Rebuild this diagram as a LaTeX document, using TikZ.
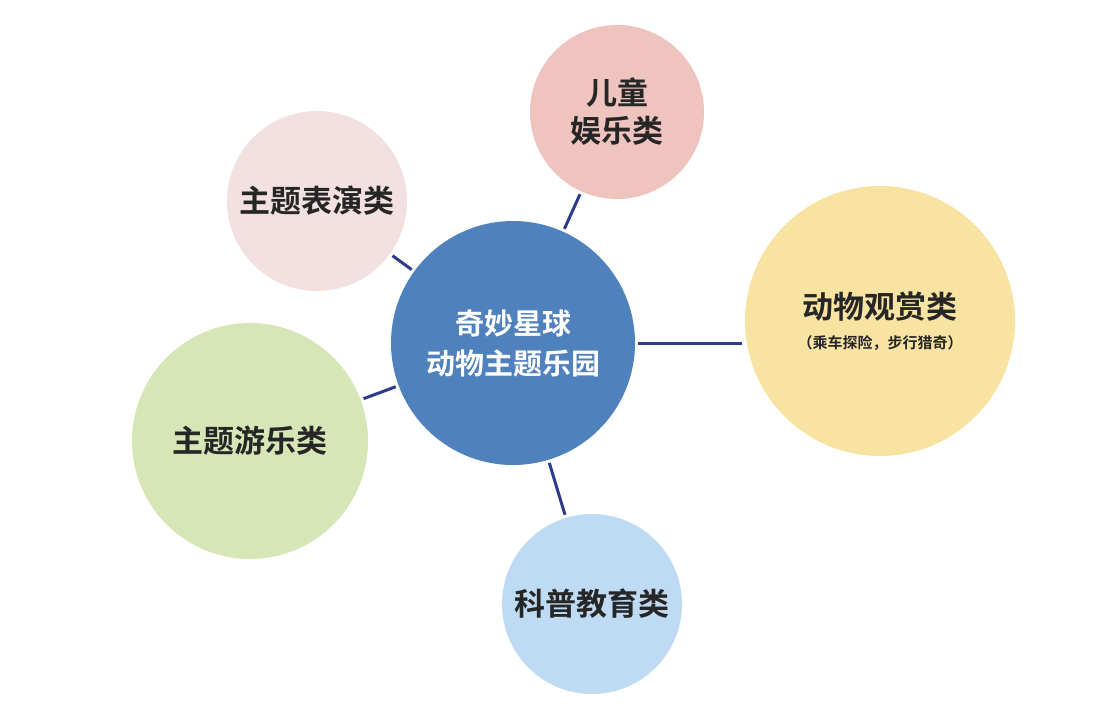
\documentclass[tikz,border=0pt]{standalone}
\usepackage{fontspec}
\setmainfont{Noto Sans CJK SC Bold}
\usetikzlibrary{positioning}
\definecolor{HubBlue}{HTML}{4F81BD}
\definecolor{KidRose}{HTML}{EFC3BE}
\definecolor{ShowPink}{HTML}{F3E0E0}
\definecolor{ViewYellow}{HTML}{F9E3A3}
\definecolor{RideGreen}{HTML}{D7E6B6}
\definecolor{SciBlue}{HTML}{BFDBF4}
\definecolor{LinkNavy}{HTML}{2C3C8A}

\begin{document}
\begin{tikzpicture}[
    x=1pt, y=-1pt,
    topic/.style={circle, inner sep=0pt, align=center, text=black!85,
                  font=\fontsize{31}{38}\selectfont},
    link/.style={LinkNavy, line width=3pt, shorten <=3pt, shorten >=3pt}
]
    \useasboundingbox (0,0) rectangle (1118,721);
    % hub
    \node[topic, fill=HubBlue, minimum size=244, text=white,
          font=\fontsize{29}{40}\selectfont] (hub) at (513,343) {奇妙星球\\动物主题乐园};

    % categories
    \node[topic, fill=KidRose, minimum size=174] (kids) at (617,112) {儿童\\娱乐类};
    \node[topic, fill=ShowPink, minimum size=180] (show) at (317,201) {主题表演类};
    \node[topic, fill=ViewYellow, minimum size=270] (view) at (880,321)
        {动物观赏类\\[-8pt]{\fontsize{15}{18}\selectfont （乘车探险，步行猎奇）}};
    \node[topic, fill=RideGreen, minimum size=236] (ride) at (250,441) {主题游乐类};
    \node[topic, fill=SciBlue, minimum size=180] (sci) at (592,604) {科普教育类};

    % links
    \foreach \t in {kids, show, ride, sci}
        \draw[link] (hub) -- (\t);
    \draw[link] (hub.east) -- (hub.east -| view.west);
\end{tikzpicture}
\end{document}
